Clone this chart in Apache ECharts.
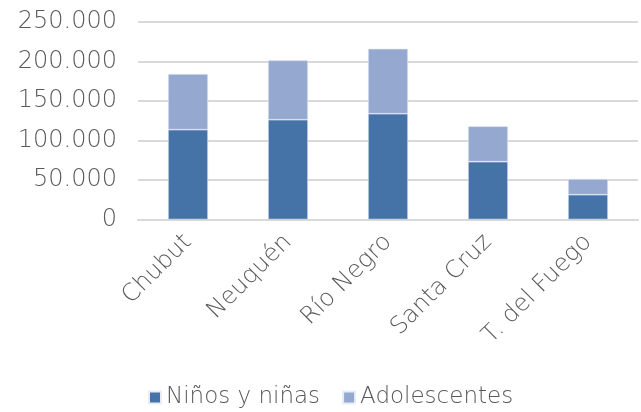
<!DOCTYPE html>
<html><head><meta charset="utf-8">
<script src="https://cdn.jsdelivr.net/npm/echarts@6/dist/echarts.min.js"></script>
<style>html,body{margin:0;padding:0;background:#fff}#c{width:641px;height:412px}</style>
</head><body><div id="c"></div>
<script>
const categories = ['Chubut', 'Neuquén', 'Río Negro', 'Santa Cruz', 'T. del Fuego'];
const ninos = [113700, 126300, 133900, 73200, 31400];
const adolescentes = [70500, 75200, 82300, 44800, 19900];
const seriesNames = ['Niños y niñas', 'Adolescentes'];

const FONT = 'DejaVu Sans';
const FW = 200;
const chart = echarts.init(document.getElementById('c'));
function fmt(v){ return String(v).replace(/\B(?=(\d{3})+(?!\d))/g, '.'); }
chart.setOption({
  animation: false,
  textStyle: {fontFamily: FONT, fontWeight: FW},
  grid: {left: 138, right: 3, top: 22, bottom: 192.5, containLabel: false},
  legend: {
    top: 381, left: 143, icon: 'rect', itemWidth: 12, itemHeight: 12, itemGap: 22,
    textStyle: {fontFamily: FONT, fontWeight: FW, fontSize: 23, color: '#595959'},
    data: seriesNames
  },
  xAxis: {
    type: 'category', data: categories,
    axisLine: {show: true, lineStyle: {color: '#d9d9d9', width: 2}},
    axisTick: {show: false},
    axisLabel: {rotate: 45, interval: 0, margin: 19, fontFamily: FONT, fontWeight: FW, fontSize: 24, color: '#595959'}
  },
  yAxis: {
    type: 'value', min: 0, max: 250000, interval: 50000,
    axisLine: {show: false}, axisTick: {show: false},
    splitLine: {lineStyle: {color: '#d9d9d9', width: 2}},
    axisLabel: {margin: 21, fontFamily: FONT, fontWeight: FW, fontSize: 24, color: '#595959', formatter: fmt}
  },
  series: [
    {name: seriesNames[0], type: 'bar', stack: 's', data: ninos, barWidth: 40,
     itemStyle: {color: '#4673a7', borderColor: '#e8edf5', borderWidth: 0.6}},
    {name: seriesNames[1], type: 'bar', stack: 's', data: adolescentes, barWidth: 40,
     itemStyle: {color: '#95a9d0', borderColor: '#e8edf5', borderWidth: 0.6}}
  ]
});
</script></body></html>
